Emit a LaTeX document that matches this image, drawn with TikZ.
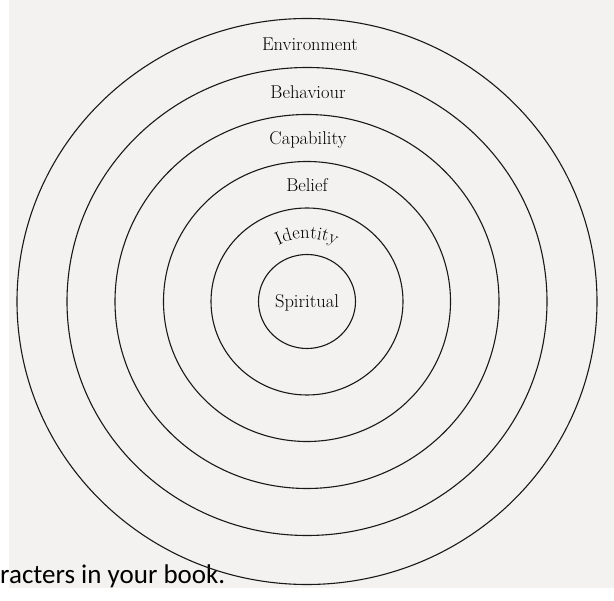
\documentclass[tikz,border=0pt]{standalone}
\usepackage{fontspec}
\newfontfamily\notefont{Carlito}
\usetikzlibrary{decorations.text}
\definecolor{scanbg}{RGB}{243,242,240}
\newcommand{\ringfont}{\fontsize{18.5}{21}\selectfont}

\begin{document}
\begin{tikzpicture}[x=1pt, y=-1pt,
    ring/.style={draw=black!90, line width=1.1pt},
    lbl/.style={font=\ringfont, inner sep=0pt, anchor=base, text=black}]
      \useasboundingbox (0,0) rectangle (614,601);
      \fill[scanbg] (9,0) rectangle (614,588);
      \coordinate (c) at (307,301.5);

      % cut-off line of the page
      \node[anchor=base west, inner sep=0pt, font=\notefont\fontsize{27}{30}\selectfont] (note) at (0,584) {racters in your book.};

      % rings, outside in
      \draw[ring] (c) ellipse [x radius=290, y radius=283];
      \draw[ring] (c) ellipse [x radius=240, y radius=234];
      \draw[ring] (c) ellipse [x radius=192, y radius=187];
      \draw[ring] (c) ellipse [x radius=143.5, y radius=140];
      \draw[ring] (c) ellipse [x radius=96, y radius=93.5];
      \draw[ring] (c) ellipse [x radius=48.5, y radius=47];

      \node[lbl] (env) at (310,50.5) {Environment};
      \node[lbl] (beh) at (308,98.5) {Behaviour};
      \node[lbl] (cap) at (308,145) {Capability};
      \node[lbl] (bel) at (307,192) {Belief};
      \node[lbl] (spi) at (307,307.5) {Spiritual};
      \path[decorate, decoration={text along path, text align=center,
            text={|\ringfont|Identity}}]
            ([shift={(150:63pt)}]c) arc[start angle=150, end angle=30, radius=63pt];
    \end{tikzpicture}
\end{document}
